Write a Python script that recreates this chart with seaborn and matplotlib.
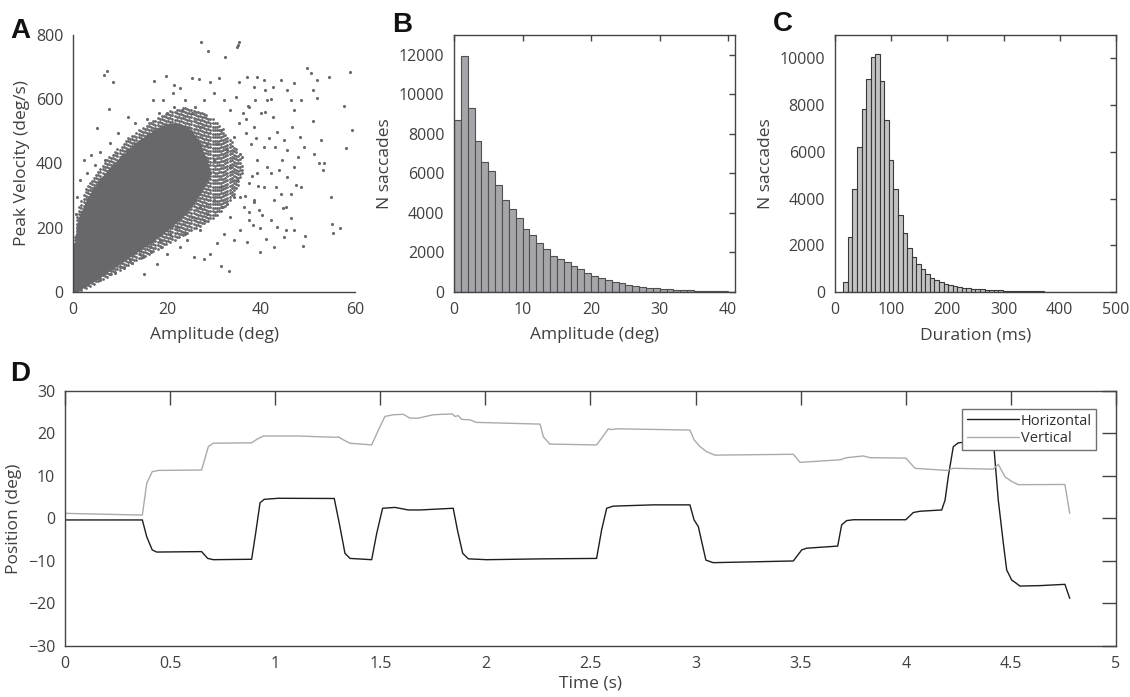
import numpy as np
import pandas as pd
import seaborn as sns
import matplotlib.pyplot as plt
from matplotlib.lines import Line2D

# ---- panel A: peak velocity vs amplitude ----
# envelopes read off the cloud, per degree of amplitude
# outer speckled band
band_amp = [0, 1, 2, 3, 4, 5, 6, 7, 8, 9, 10, 11, 12, 13, 14, 15, 16, 17, 18, 19,
            20, 21, 22, 23, 24, 25, 26, 27, 28, 29, 30, 31, 32, 33, 34, 35, 36]
band_lo = [0, 3, 8, 15, 22, 30, 38, 46, 54, 62, 70, 78, 86, 94, 102, 110, 118, 126,
           134, 142, 150, 158, 166, 174, 182, 190, 198, 206, 214, 222, 232, 245, 260,
           280, 300, 330, 370]
band_hi = [100, 260, 300, 330, 355, 375, 395, 410, 425, 440, 455, 470, 485, 495, 505,
           515, 525, 535, 545, 553, 560, 566, 570, 574, 576, 575, 572, 566, 558, 548,
           536, 522, 506, 488, 466, 436, 400]
# dense (solid grey) core
core_amp = [0, 1, 2, 3, 4, 5, 6, 7, 8, 9, 10, 11, 12, 13, 14, 15, 16, 17, 18, 19,
            20, 21, 22, 23, 24, 25, 26, 27, 28, 29]
core_lo = [0, 8, 18, 27, 36, 45, 55, 65, 75, 85, 95, 105, 115, 125, 135, 145, 155, 165,
           176, 187, 198, 210, 223, 238, 254, 272, 292, 315, 340, 370]
core_hi = [90, 210, 250, 282, 310, 330, 350, 367, 383, 398, 413, 428, 442, 455, 468, 480,
           490, 499, 507, 513, 518, 521, 521, 518, 512, 500, 482, 455, 420, 375]

# scattered saccades outside the dense cloud (amplitude deg, peak velocity deg/s)
sparse_amp = [27.3, 28.7, 32.4, 34.8, 35.4, 35.1, 7.3, 6.6, 8.6, 7.6, 5.2, 17.2, 19.7,
              49.8, 50.6, 52.0, 54.5, 59.0, 57.6, 59.3, 58.0, 54.9, 55.2, 56.7, 55.3,
              31.4, 33.1, 39.7, 49.0, 49.3, 44.9, 47.0, 46.3, 42.8, 41.0, 45.3, 51.3,
              52.3, 53.1, 53.3, 52.7, 51.0, 51.9, 51.0, 48.5, 47.0, 46.5, 48.3, 49.2,
              47.9, 45.6, 47.4, 44.2, 42.8, 44.5, 42.9, 43.5, 42.6, 41.3, 45.6, 44.2,
              42.2, 40.6, 39.2, 37.1, 38.5, 35.3, 31.1, 29.2, 26.9, 25.3, 22.8, 21.4,
              21.2, 19.2, 17.1, 15.8, 13.2, 11.6, 9.6, 7.8, 5.7, 3.9, 2.3, 3.0, 1.4,
              0.9, 0.6, 6.8, 4.6, 32.1, 33.5, 34.6, 36.2, 37.4, 38.8, 39.9, 38.5, 36.7,
              37.8, 35.6, 39.2, 40.6, 41.3, 39.2, 37.4, 40.6, 38.5, 36.3, 39.6, 37.4,
              35.6, 34.2, 37.1, 33.5, 32.1, 30.6, 29.2, 27.8, 25.7, 34.2, 34.9, 33.5,
              32.8, 34.2, 35.3, 31.4, 30.6, 31.4, 29.9, 28.5, 27.1, 24.2, 22.8, 20.0,
              17.8, 15.0, 27.8, 29.2, 29.9, 28.5, 27.1, 26.0, 27.8, 29.9, 23.9, 25.3,
              23.2, 21.4, 20.0, 18.2, 27.1, 26.4, 24.9, 23.5, 22.1, 20.7, 18.5, 16.4,
              14.3, 12.1, 10.0, 7.8, 5.7, 13.2, 23.9, 25.3, 27.1, 31.7, 32.8, 35.6,
              42.1, 43.1, 42.1, 45.3, 43.5, 46.3, 48.5, 47.0, 45.6, 44.9, 46.3, 47.0,
              42.6, 40.9, 36.5, 37.5, 38.2, 39.0, 36.0, 38.0, 36.8, 37.2, 38.6, 39.4,
              40.2, 41.8, 43.8, 44.6, 40.8, 39.8, 12.5, 14.8, 10.8, 9.0, 16.5, 18.8]
sparse_vel = [779, 751, 732, 762, 777, 768, 688, 674, 655, 571, 511, 658, 673,
              698, 681, 660, 668, 684, 579, 503, 447, 296, 211, 198, 184,
              82, 64, 124, 142, 175, 170, 192, 229, 140, 166, 265, 431,
              403, 379, 402, 473, 532, 605, 629, 597, 566, 514, 483, 452,
              421, 358, 332, 306, 286, 410, 452, 499, 545, 597, 629, 660,
              600, 660, 668, 670, 639, 655, 665, 653, 662, 665, 634, 644,
              618, 597, 597, 540, 525, 545, 494, 464, 436, 426, 412, 369, 348,
              296, 244, 412, 395, 597, 566, 608, 556, 577, 597, 556, 514, 494,
              462, 431, 410, 452, 390, 369, 338, 327, 286, 265, 255, 223,
              192, 161, 156, 234, 182, 151, 119, 104, 109, 296, 348, 390,
              442, 483, 525, 504, 462, 327, 286, 244, 192, 161, 140, 119,
              88, 57, 223, 369, 410, 462, 514, 577, 597, 618, 597, 556,
              566, 577, 556, 556, 452, 327, 286, 244, 203, 182, 161, 140,
              119, 99, 78, 57, 36, 135, 182, 234, 265, 265, 275, 296,
              369, 327, 223, 192, 203, 306, 327, 390, 442, 473, 597, 649,
              639, 629, 300, 250, 210, 480, 420, 360, 540, 580, 280, 330,
              240, 480, 380, 260, 560, 200, 90, 110, 75, 60, 125, 140]

# ---- panel B: amplitude histogram (1 deg bins, 0-40 deg) ----
amp_counts = [8700, 11950, 9300, 7650, 6600, 6100, 5400, 4650, 4200, 3730,
              3200, 2880, 2500, 2190, 1815, 1680, 1510, 1300, 1165, 945,
              805, 700, 600, 515, 445, 360, 310, 260, 225, 190,
              155, 137, 120, 103, 86, 70, 60, 50, 43, 35]

# ---- panel C: duration histogram (60 bins from 15 to 501 ms) ----
dur_counts = [445, 2360, 4410, 6190, 7840, 9120, 10060, 10200, 9020, 7360,
              5660, 4410, 3280, 2515, 1900, 1480, 1205, 975, 760, 590,
              517, 417, 345, 300, 245, 215, 190, 165, 145, 125,
              110, 95, 85, 75, 65, 58, 50, 45, 40, 36,
              32, 28, 25, 22, 20, 18, 16, 14, 12, 11,
              10, 9, 8, 7, 6, 5, 5, 4, 4, 3]

# ---- panel D: example eye trace (breakpoints, s / deg) ----
hor_t = [0.0, 0.368, 0.389, 0.415, 0.436, 0.650, 0.679, 0.706, 0.888, 0.907, 0.928,
         0.948, 1.015, 1.281, 1.308, 1.332, 1.356, 1.459, 1.483, 1.511, 1.570, 1.633,
         1.689, 1.847, 1.867, 1.892, 1.919, 2.006, 2.276, 2.529, 2.553, 2.577, 2.608,
         2.798, 2.973, 2.993, 3.013, 3.049, 3.084, 3.275, 3.465, 3.505, 3.528, 3.676,
         3.695, 3.719, 3.751, 4.000, 4.036, 4.068, 4.171, 4.187, 4.202, 4.226, 4.250,
         4.321, 4.408, 4.419, 4.440, 4.464, 4.480, 4.504, 4.527, 4.543, 4.638, 4.757,
         4.780]
hor_pos = [-0.35, -0.35, -4.3, -7.4, -7.9, -7.8, -9.4, -9.7, -9.6, -3.5, 3.7,
           4.5, 4.75, 4.7, -1.9, -8.2, -9.4, -9.7, -3.5, 2.4, 2.6, 2.0,
           2.0, 2.4, -2.7, -8.2, -9.5, -9.7, -9.5, -9.4, -2.7, 2.4, 2.9,
           3.2, 3.2, -0.35, -1.9, -9.8, -10.4, -10.2, -10.0, -7.4, -7.0, -6.5,
           -1.5, -0.5, -0.3, -0.3, 1.4, 1.7, 2.0, 4.35, 9.8, 16.9, 17.8,
           18.1, 18.1, 16.9, 4.35, -5.8, -12.1, -14.5, -15.3, -15.9, -15.8, -15.5,
           -18.8]
ver_t = [0.0, 0.368, 0.389, 0.415, 0.444, 0.650, 0.682, 0.706, 0.888, 0.912, 0.944,
         1.110, 1.284, 1.300, 1.324, 1.356, 1.459, 1.491, 1.522, 1.562, 1.610, 1.641,
         1.681, 1.752, 1.843, 1.855, 1.871, 1.887, 1.927, 1.958, 2.260, 2.276, 2.307,
         2.529, 2.553, 2.585, 2.600, 2.624, 2.973, 2.993, 3.021, 3.053, 3.092, 3.465,
         3.497, 3.687, 3.719, 3.798, 3.830, 4.000, 4.044, 4.195, 4.226, 4.416, 4.440,
         4.472, 4.504, 4.535, 4.757, 4.780]
ver_pos = [1.2, 0.8, 8.3, 11.0, 11.3, 11.4, 16.9, 17.7, 17.8, 18.6, 19.4,
           19.4, 19.1, 19.2, 18.5, 17.7, 17.3, 20.8, 24.0, 24.4, 24.5, 23.6,
           23.6, 24.4, 24.6, 24.0, 24.2, 23.3, 23.2, 22.6, 22.2, 19.2, 17.5,
           17.3, 18.9, 21.1, 20.9, 21.1, 20.8, 18.5, 16.9, 15.7, 14.9, 15.1,
           13.2, 13.8, 14.3, 14.7, 14.3, 14.2, 11.8, 11.3, 11.8, 11.6, 12.75,
           9.8, 8.7, 7.95, 8.0, 1.2]


def style_axis(ax, tick_len, box=True):
    spine_col = '#444444'
    for side in ['left', 'bottom', 'top', 'right']:
        ax.spines[side].set_color(spine_col)
        ax.spines[side].set_linewidth(1.0)
    if not box:
        ax.spines['top'].set_visible(False)
        ax.spines['right'].set_visible(False)
    ax.tick_params(direction='in', length=tick_len, width=1.0, color=spine_col,
                   labelcolor='#404040', labelsize=11.5, pad=7,
                   top=box, right=box)
    ax.grid(False)


def fill_envelope(amp, lo, hi, step_a, step_v, stagger=False):
    # lattice of dots covering the area between the two envelopes
    fine_amp = np.arange(amp[0], amp[-1] + 1e-9, step_a)
    f_lo = np.interp(fine_amp, amp, lo)
    f_hi = np.interp(fine_amp, amp, hi)
    xs, ys = [], []
    for i, (a, l, h) in enumerate(zip(fine_amp, f_lo, f_hi)):
        start = l + (step_v / 2 if stagger and i % 2 else 0)
        vs = np.arange(start, h, step_v)
        xs.extend([a] * len(vs))
        ys.extend(vs)
    return pd.DataFrame({'amp': xs, 'vel': ys})


def plot_figure():
    sns.set_theme(style='white')
    plt.rcParams['font.family'] = ['Open Sans', 'DejaVu Sans']
    text_col = '#404040'
    label_fontsize = 12.5
    dot_col = '#67676c'

    fig = plt.figure(figsize=(11.3, 6.97), dpi=100)
    ax_a = fig.add_axes([0.0646, 0.5811, 0.2496, 0.3687])
    ax_b = fig.add_axes([0.4018, 0.5811, 0.2487, 0.3687])
    ax_c = fig.add_axes([0.7389, 0.5811, 0.2487, 0.3687])
    ax_d = fig.add_axes([0.0575, 0.0732, 0.9301, 0.3659])

    # A: speckled band, dense core, then the scattered saccades
    band = fill_envelope(band_amp, band_lo, band_hi, 0.45, 11, stagger=True)
    core = fill_envelope(core_amp, core_lo, core_hi, 0.25, 5)
    sparse = pd.DataFrame({'amp': sparse_amp, 'vel': sparse_vel})
    sns.scatterplot(data=band, x='amp', y='vel', s=4, color=dot_col,
                    linewidth=0, ax=ax_a, rasterized=True)
    sns.scatterplot(data=core, x='amp', y='vel', s=8, color=dot_col,
                    linewidth=0, ax=ax_a, rasterized=True)
    sns.scatterplot(data=sparse, x='amp', y='vel', s=5, color=dot_col,
                    linewidth=0, ax=ax_a)
    ax_a.set_xlim(0, 60)
    ax_a.set_ylim(0, 800)
    ax_a.set_xticks([0, 20, 40, 60])
    ax_a.set_yticks([0, 200, 400, 600, 800])
    ax_a.set_xlabel('Amplitude (deg)', fontsize=label_fontsize, color=text_col, labelpad=7)
    ax_a.set_ylabel('Peak Velocity (deg/s)', fontsize=label_fontsize, color=text_col)
    style_axis(ax_a, 4, box=False)

    # B: amplitude histogram
    amp_edges = [float(e) for e in range(0, 41)]
    amp_df = pd.DataFrame({'amp': [e + 0.5 for e in amp_edges[:-1]], 'n': amp_counts})
    sns.histplot(data=amp_df, x='amp', weights='n', bins=amp_edges,
                 color='#a5a5aa', edgecolor='#505050', linewidth=0.8, alpha=1,
                 ax=ax_b)
    ax_b.set_xlim(0, 41)
    ax_b.set_ylim(0, 13000)
    ax_b.set_xticks([0, 10, 20, 30, 40])
    ax_b.set_yticks(np.arange(0, 12001, 2000))
    ax_b.set_xlabel('Amplitude (deg)', fontsize=label_fontsize, color=text_col, labelpad=7)
    ax_b.set_ylabel('N saccades', fontsize=label_fontsize, color=text_col)
    style_axis(ax_b, 4)

    # C: duration histogram
    dur_edges = [float(e) for e in np.linspace(15, 501, 61)]
    dur_df = pd.DataFrame({'dur': [e + 4 for e in dur_edges[:-1]], 'n': dur_counts})
    sns.histplot(data=dur_df, x='dur', weights='n', bins=dur_edges,
                 color='#c3c3c3', edgecolor='#383838', linewidth=0.8, alpha=1,
                 ax=ax_c)
    ax_c.set_xlim(0, 500)
    ax_c.set_ylim(0, 11000)
    ax_c.set_xticks(np.arange(0, 501, 100))
    ax_c.set_yticks(np.arange(0, 10001, 2000))
    ax_c.set_xlabel('Duration (ms)', fontsize=label_fontsize, color=text_col, labelpad=7)
    ax_c.set_ylabel('N saccades', fontsize=label_fontsize, color=text_col)
    style_axis(ax_c, 4)

    # D: example trace
    sns.lineplot(x=hor_t, y=hor_pos, color='#1e1e1e', linewidth=1.0, ax=ax_d)
    sns.lineplot(x=ver_t, y=ver_pos, color='#aaaaaa', linewidth=1.0, ax=ax_d)
    ax_d.set_xlim(0, 5)
    ax_d.set_ylim(-30, 30)
    ax_d.set_xticks(np.arange(0, 5.01, 0.5))
    ax_d.set_xticklabels(['0', '0.5', '1', '1.5', '2', '2.5', '3', '3.5', '4', '4.5', '5'])
    ax_d.set_yticks(np.arange(-30, 31, 10))
    ax_d.set_xlabel('Time (s)', fontsize=label_fontsize, color=text_col, labelpad=3)
    ax_d.set_ylabel('Position (deg)', fontsize=label_fontsize, color=text_col)
    style_axis(ax_d, 10)
    handles = [Line2D([], [], color='#1e1e1e', linewidth=1.0),
               Line2D([], [], color='#aaaaaa', linewidth=1.0)]
    leg = ax_d.legend(handles, ['Horizontal', 'Vertical'], loc='upper right',
                      bbox_to_anchor=(0.988, 0.957), fontsize=10.5, handlelength=3.6,
                      handletextpad=0.1, borderpad=0.3, labelspacing=0.15,
                      fancybox=False, framealpha=1, edgecolor='#707070')
    leg.get_frame().set_linewidth(1.0)
    for t in leg.get_texts():
        t.set_color('#303030')

    # panel letters
    for letter, x, y in [('A', 0.009, 0.946), ('B', 0.347, 0.954),
                         ('C', 0.684, 0.956), ('D', 0.009, 0.453)]:
        fig.text(x, y, letter, fontsize=20, fontweight='bold', color='#111111',
                 family='Liberation Sans')

    plt.savefig('out.png', dpi=100)


if __name__ == "__main__":
    plot_figure()
